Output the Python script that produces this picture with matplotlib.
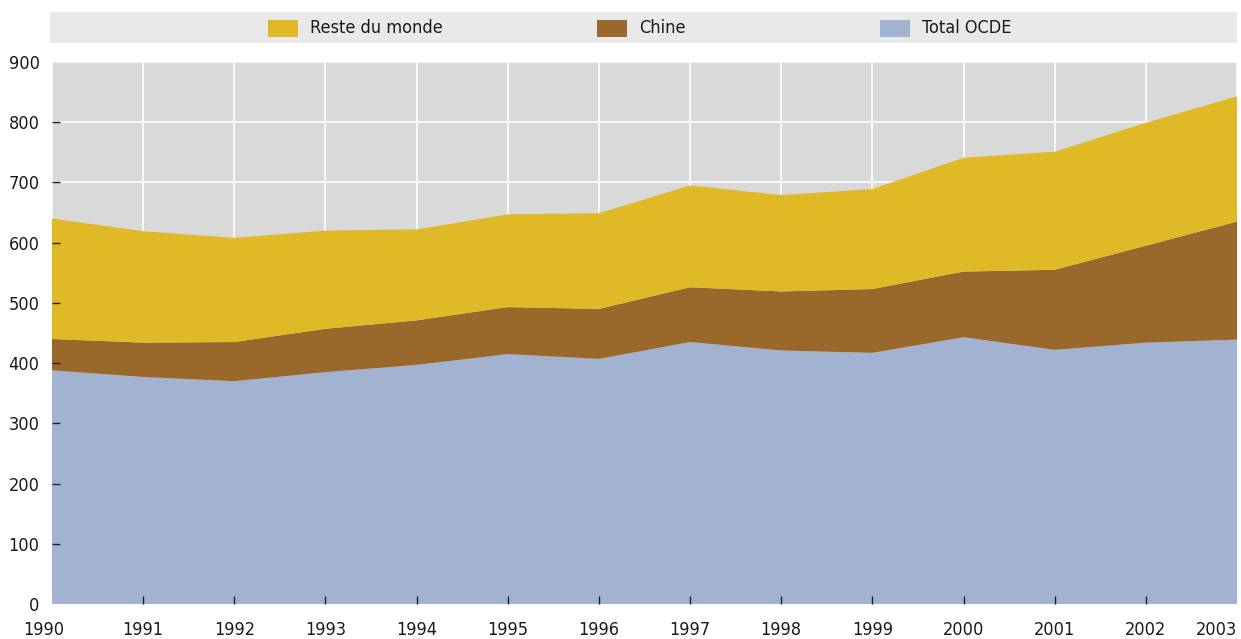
import matplotlib.pyplot as plt
import matplotlib.transforms as mtransforms
from matplotlib.patches import Rectangle
import numpy as np

# Data
years = [1990, 1991, 1992, 1993, 1994, 1995, 1996, 1997, 1998, 1999, 2000, 2001, 2002, 2003]
total_ocde = [388, 377, 370, 385, 397, 415, 407, 435, 421, 417, 443, 422, 434, 439]
chine_top = [440, 434, 435, 457, 471, 493, 490, 526, 519, 523, 552, 555, 595, 635]
total_top = [640, 619, 608, 620, 622, 647, 649, 695, 679, 689, 741, 751, 799, 843]

chine = [c - o for c, o in zip(chine_top, total_ocde)]
reste = [t - c for t, c in zip(total_top, chine_top)]

labels = ['Reste du monde', 'Chine', 'Total OCDE']
colors = {'Reste du monde': '#e0b927', 'Chine': '#99682a', 'Total OCDE': '#a2b3d2'}
yticks = np.arange(0, 901, 100)

plt.rcParams['font.family'] = ['DejaVu Sans']
plt.rcParams['font.stretch'] = 'condensed'

W, H = 1241, 639
fig = plt.figure(figsize=(W / 100, H / 100), dpi=100)
ax = fig.add_axes([52 / W, (H - 604) / H, (1237 - 52) / W, (604 - 62) / H])
ax.set_facecolor('#d9d9d9')

# white grid behind the areas, ticks stay on top
ax.vlines(years, 0, 900, color='white', lw=1.1, zorder=0.5)
ax.hlines(yticks, years[0], years[-1], color='white', lw=1.1, zorder=0.5)

ax.stackplot(years, total_ocde, chine, reste,
             colors=[colors['Total OCDE'], colors['Chine'], colors['Reste du monde']],
             lw=0, zorder=1)

ax.set_xlim(years[0], years[-1])
ax.set_ylim(0, 900)
ax.set_xticks(years)
ax.set_yticks(yticks)
for s in ax.spines.values():
    s.set_visible(False)
ax.tick_params(axis='both', direction='in', length=6, width=1, color='#222222',
               labelsize=13, labelcolor='#1a1a1a')
ax.tick_params(axis='x', pad=12)
ax.tick_params(axis='y', pad=9)

# no tick marks on the plot edges
for t in [ax.xaxis.get_major_ticks()[0], ax.xaxis.get_major_ticks()[-1],
          ax.yaxis.get_major_ticks()[0], ax.yaxis.get_major_ticks()[-1]]:
    t.tick1line.set_visible(False)

xlabs = ax.get_xticklabels()
xlabs[0].set_transform(xlabs[0].get_transform() +
                       mtransforms.ScaledTranslation(-8 / 100, 0, fig.dpi_scale_trans))
xlabs[-1].set_horizontalalignment('right')

# legend band
lax = fig.add_axes([50 / W, (H - 43) / H, (1237 - 50) / W, 31 / H])
lax.set_facecolor('#e9e9e9')
lax.set_xlim(50, 1237)
lax.set_ylim(0, 31)
lax.set_xticks([])
lax.set_yticks([])
for s in lax.spines.values():
    s.set_visible(False)
leg_x = [268, 597, 880]
for lab, x0 in zip(labels, leg_x):
    lax.add_patch(Rectangle((x0, 6), 30, 17, color=colors[lab], lw=0))
    lax.text(x0 + 42, 15, lab, va='center', ha='left', fontsize=13, color='#1a1a1a')

fig.savefig('out.png', dpi=100)
